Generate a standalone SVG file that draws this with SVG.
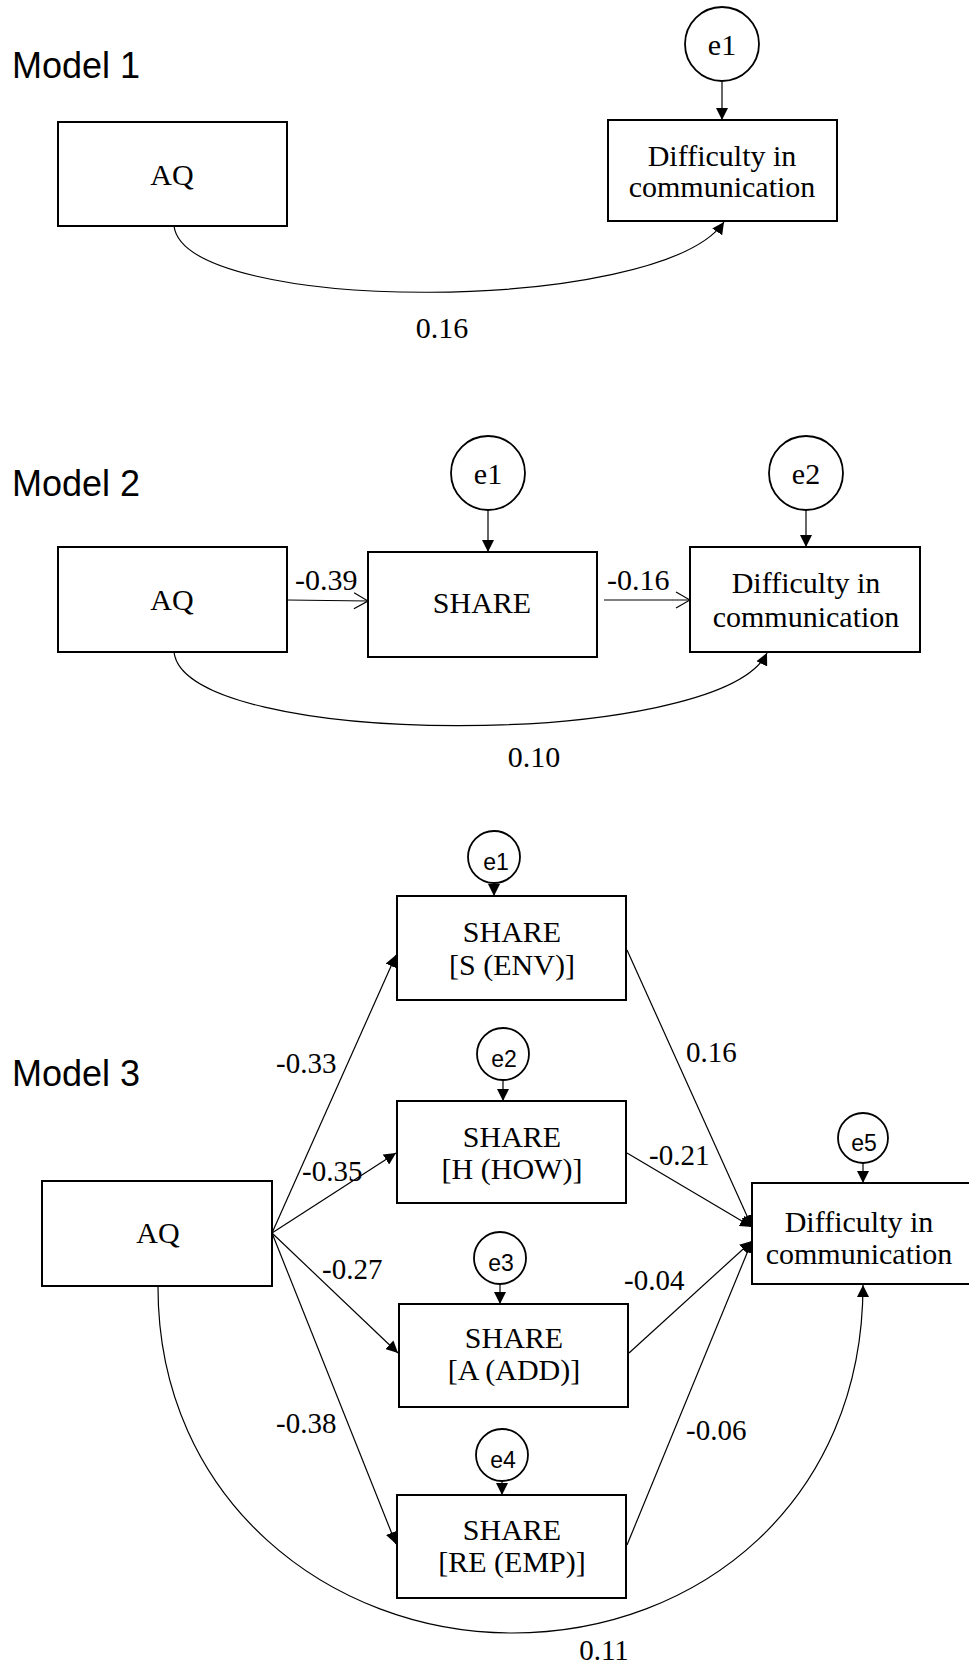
<svg xmlns="http://www.w3.org/2000/svg" width="969" height="1669" viewBox="0 0 969 1669">
<style>
.box{fill:#fff;stroke:#000;stroke-width:2}
.ell{fill:#fff;stroke:#000;stroke-width:1.8}
.t{font-family:"Liberation Serif","Times New Roman",serif;font-size:30px;fill:#000;text-anchor:middle}
.lab{font-family:"Liberation Serif","Times New Roman",serif;font-size:30px;fill:#000}
.lab3{font-family:"Liberation Serif","Times New Roman",serif;font-size:29px;fill:#000}
.es{font-family:"Liberation Sans",Arial,sans-serif;font-size:23px;fill:#000;text-anchor:middle}
.title{font-family:"Liberation Sans",Arial,sans-serif;font-size:36px;fill:#000}
.c{fill:none;stroke:#000;stroke-width:1.2}
.ca{fill:none;stroke:#000;stroke-width:1.2;marker-end:url(#fa)}
.co{fill:none;stroke:#000;stroke-width:1.2;marker-end:url(#oa)}
</style>
<defs>
<marker id="fa" viewBox="0 0 12 12" refX="12" refY="6" markerWidth="12" markerHeight="12" markerUnits="userSpaceOnUse" orient="auto">
<path d="M0,0 L12,6 L0,12 z" fill="#000"/>
</marker>
<marker id="oa" viewBox="0 0 16 18" refX="15" refY="9" markerWidth="16" markerHeight="18" markerUnits="userSpaceOnUse" orient="auto">
<path d="M1,1 L15,9 L1,17" fill="none" stroke="#000" stroke-width="1.2"/>
</marker>
</defs>
<rect width="969" height="1669" fill="#fff"/>

<text class="title" x="12" y="78">Model 1</text>
<text class="title" x="12" y="496">Model 2</text>
<text class="title" x="12" y="1086">Model 3</text>

<g id="connectors">
<!-- Model 1 -->
<line class="ca" x1="722" y1="82" x2="722" y2="120"/>
<path class="ca" d="M174 226 C185 315 660 315 724 222"/>
<!-- Model 2 -->
<line class="ca" x1="488" y1="510" x2="488" y2="552"/>
<line class="ca" x1="806" y1="510" x2="806" y2="547"/>
<line class="co" x1="287" y1="600" x2="368" y2="601"/>
<line class="co" x1="604" y1="600" x2="690" y2="600"/>
<path class="ca" d="M174 652 C185 750 720 750 767 653"/>
<!-- Model 3 -->
<line class="ca" x1="494" y1="883" x2="494" y2="896"/>
<line class="ca" x1="503" y1="1080" x2="503" y2="1101"/>
<line class="ca" x1="500" y1="1284" x2="500" y2="1304"/>
<line class="ca" x1="502" y1="1481" x2="502" y2="1495"/>
<line class="ca" x1="863" y1="1163" x2="863" y2="1183"/>
<line class="ca" x1="272" y1="1233" x2="396" y2="955"/>
<line class="ca" x1="272" y1="1233" x2="396" y2="1153"/>
<line class="ca" x1="272" y1="1233" x2="398" y2="1353"/>
<line class="ca" x1="272" y1="1233" x2="396" y2="1544"/>
<line class="ca" x1="627" y1="950" x2="752" y2="1227"/>
<line class="ca" x1="627" y1="1153" x2="752" y2="1227"/>
<line class="ca" x1="629" y1="1353" x2="752" y2="1241"/>
<line class="ca" x1="627" y1="1545" x2="752" y2="1241"/>
<path class="ca" d="M158 1287 C158 1500 330 1633 512 1633 C700 1633 863 1500 863 1285"/>
</g>

<g id="labels">
<text class="lab" x="442" y="338" text-anchor="middle">0.16</text>
<text class="lab" x="295" y="590">-0.39</text>
<text class="lab" x="607" y="590">-0.16</text>
<text class="lab" x="534" y="767" text-anchor="middle">0.10</text>
<text class="lab3" x="276" y="1073">-0.33</text>
<text class="lab3" x="302" y="1181">-0.35</text>
<text class="lab3" x="322" y="1279">-0.27</text>
<text class="lab3" x="276" y="1433">-0.38</text>
<text class="lab3" x="686" y="1062">0.16</text>
<text class="lab3" x="649" y="1165">-0.21</text>
<text class="lab3" x="624" y="1290">-0.04</text>
<text class="lab3" x="686" y="1440">-0.06</text>
<text class="lab3" x="604" y="1660" text-anchor="middle">0.11</text>
</g>

<!-- Model 1 nodes -->
<g id="m1-aq"><rect class="box" x="58" y="122" width="229" height="104"/><text class="t" x="172" y="185">AQ</text></g>
<g id="m1-e1"><circle class="ell" cx="722" cy="44" r="37"/><text class="t" x="722" y="55">e1</text></g>
<g id="m1-diff"><rect class="box" x="608" y="120" width="229" height="101"/><text class="t" x="722" y="166">Difficulty in</text><text class="t" x="722" y="197">communication</text></g>

<!-- Model 2 nodes -->
<g id="m2-aq"><rect class="box" x="58" y="547" width="229" height="105"/><text class="t" x="172" y="610">AQ</text></g>
<g id="m2-e1"><circle class="ell" cx="488" cy="473" r="37"/><text class="t" x="488" y="484">e1</text></g>
<g id="m2-share"><rect class="box" x="368" y="552" width="229" height="105"/><text class="t" x="482" y="613">SHARE</text></g>
<g id="m2-e2"><circle class="ell" cx="806" cy="473" r="37"/><text class="t" x="806" y="484">e2</text></g>
<g id="m2-diff"><rect class="box" x="690" y="547" width="230" height="105"/><text class="t" x="806" y="593">Difficulty in</text><text class="t" x="806" y="627">communication</text></g>

<!-- Model 3 nodes -->
<g id="m3-aq"><rect class="box" x="42" y="1181" width="230" height="105"/><text class="t" x="158" y="1243">AQ</text></g>
<g id="m3-e1"><circle class="ell" cx="494" cy="857" r="26"/><text class="es" x="496" y="870">e1</text></g>
<g id="m3-s"><rect class="box" x="397" y="896" width="229" height="104"/><text class="t" x="512" y="942">SHARE</text><text class="t" x="512" y="975">[S (ENV)]</text></g>
<g id="m3-e2"><circle class="ell" cx="503" cy="1054" r="26"/><text class="es" x="504" y="1067">e2</text></g>
<g id="m3-h"><rect class="box" x="397" y="1101" width="229" height="102"/><text class="t" x="512" y="1147">SHARE</text><text class="t" x="512" y="1179">[H (HOW)]</text></g>
<g id="m3-e3"><circle class="ell" cx="500" cy="1258" r="26"/><text class="es" x="501" y="1271">e3</text></g>
<g id="m3-a"><rect class="box" x="399" y="1304" width="229" height="103"/><text class="t" x="514" y="1348">SHARE</text><text class="t" x="514" y="1380">[A (ADD)]</text></g>
<g id="m3-e4"><circle class="ell" cx="502" cy="1455" r="26"/><text class="es" x="503" y="1468">e4</text></g>
<g id="m3-re"><rect class="box" x="397" y="1495" width="229" height="103"/><text class="t" x="512" y="1540">SHARE</text><text class="t" x="512" y="1572">[RE (EMP)]</text></g>
<g id="m3-e5"><circle class="ell" cx="863" cy="1138" r="25"/><text class="es" x="864" y="1151">e5</text></g>
<g id="m3-diff"><rect class="box" x="752" y="1183" width="240" height="101"/><text class="t" x="859" y="1232">Difficulty in</text><text class="t" x="859" y="1264">communication</text></g>
</svg>
